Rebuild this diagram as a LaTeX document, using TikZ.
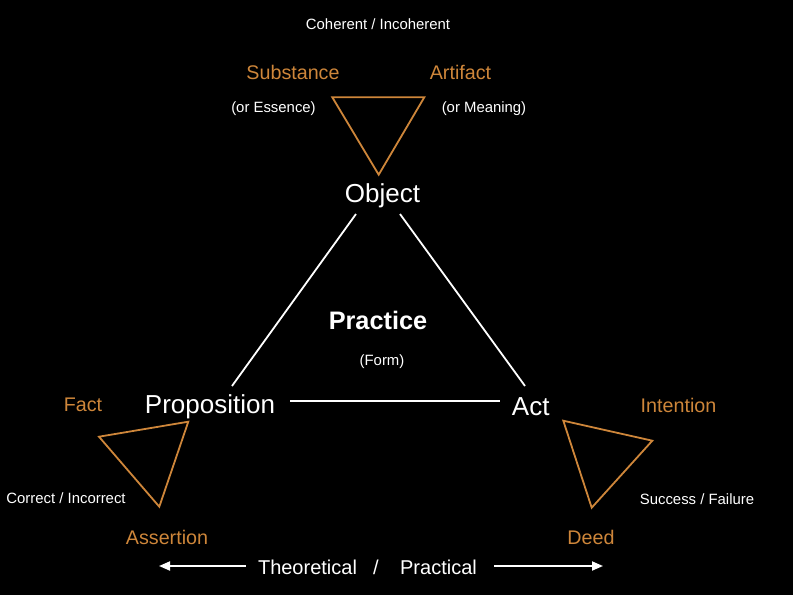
\documentclass[tikz,border=0pt]{standalone}
\usepackage{fontspec}
\setmainfont{Liberation Sans}
\usetikzlibrary{calc,arrows.meta}
\definecolor{ochre}{RGB}{206,134,58}
\begin{document}
\begin{tikzpicture}[x=1pt,y=-1pt,
  txt/.style={inner sep=0pt, text=white},
  big/.style={txt, font=\fontsize{26}{29}\selectfont},
  orn/.style={inner sep=0pt, text=ochre, font=\fontsize{19.7}{22}\selectfont},
  small/.style={txt, font=\fontsize{14.9}{17}\selectfont},
  conn/.style={draw=white, line width=1.8pt},
  tri/.style={draw=ochre, line width=1.8pt, line join=miter},
  arr/.style={draw=white, line width=1.8pt, -{Triangle[length=11pt,width=9pt]}}]
\useasboundingbox (0,0) rectangle (793,595);
\fill[black] (0,0) rectangle (793,595);

% main concepts
\node[big] (obj) at (382.5,196) {Object};
\node[big] (prop) at (210,407) {Proposition};
\node[big] (act) at (530.7,407) {Act};
\node[txt, font=\fontsize{25.3}{28}\selectfont\bfseries] (prac) at (378,320) {Practice};
\node[small] (form) at (382,362) {(Form)};

\draw[conn] ($(obj.center)+(-26.5,18)$) -- ($(prop.center)+(22,-21)$);
\draw[conn] ($(obj.center)+(17.5,18)$) -- ($(act.center)+(-5.7,-21)$);
\draw[conn] ($(prop.center)+(80,-6)$) -- ($(act.center)+(-30.7,-6)$);

% top triangle
\node[small] (coh) at (378,24) {Coherent / Incoherent};
\node[orn] (sub) at (293,72) {Substance};
\node[orn] (art) at (460.5,72) {Artifact};
\node[small] (ess) at (273.5,109) {(or Essence)};
\node[small] (mea) at (484,109) {(or Meaning)};
\draw[tri] (332.3,97.3) -- (424.3,97.3) -- (378.7,174.7) -- cycle;

% left triangle
\node[orn] (fact) at (83,405) {Fact};
\node[orn] (ass) at (167,537) {Assertion};
\node[small] (cor) at (66,498) {Correct / Incorrect};
\draw[tri] (99,436.7) -- (188.3,421.7) -- (159.3,506.7) -- cycle;

% right triangle
\node[orn] (int) at (678.5,405) {Intention};
\node[orn] (deed) at (591,537) {Deed};
\node[small] (suc) at (697,499) {Success / Failure};
\draw[tri] (563.3,420.7) -- (652.3,440.7) -- (591.7,507.7) -- cycle;

% bottom axis
\node[txt, font=\fontsize{20}{22}\selectfont] (theo) at (307.5,567) {Theoretical};
\node[txt, font=\fontsize{20}{22}\selectfont] (sl) at (376,567) {/};
\node[txt, font=\fontsize{20}{22}\selectfont] (pra) at (438.5,567) {Practical};
\coordinate (lend) at (159,566);
\coordinate (rend) at (603,566);
\draw[arr] ($(theo.west)+(-12,-1)$) -- (lend);
\draw[arr] ($(pra.east)+(17,-1)$) -- (rend);
\end{tikzpicture}
\end{document}
